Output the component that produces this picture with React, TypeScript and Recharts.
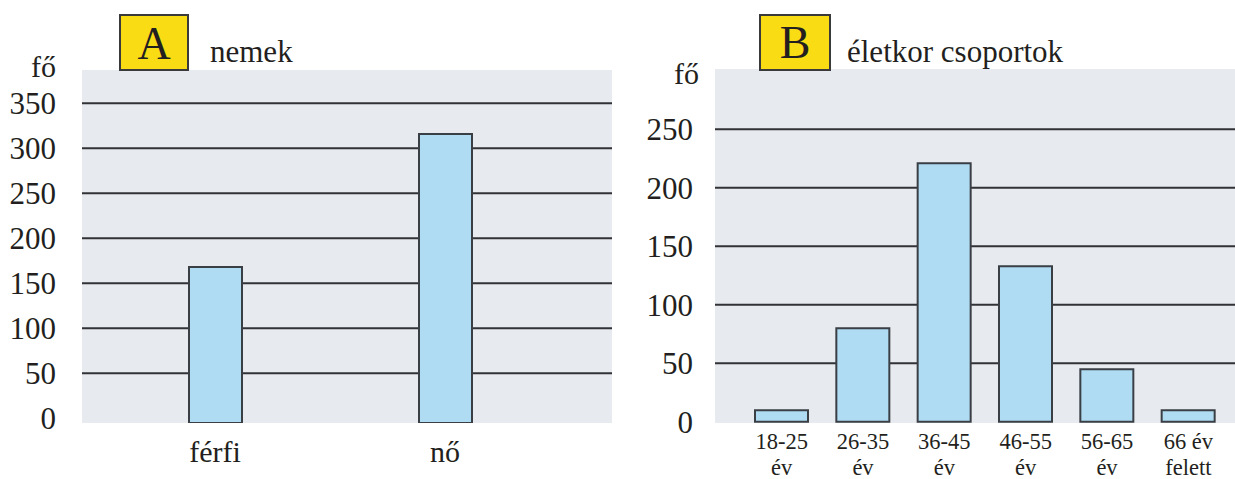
import React from 'react';
import { BarChart, Bar, XAxis, YAxis, CartesianGrid } from 'recharts';

// ---- Panel A: nemek ----
const sexCategories = ['férfi', 'nő'];
const sexValues = [168, 316];
const sexTicks = [0, 50, 100, 150, 200, 250, 300, 350];
const sexGridValues = [50, 100, 150, 200, 250, 300, 350];

// ---- Panel B: életkor csoportok ----
const ageLabelLine1 = ['18-25', '26-35', '36-45', '46-55', '56-65', '66 év'];
const ageLabelLine2 = ['év', 'év', 'év', 'év', 'év', 'felett'];
const ageValues = [10, 80, 221, 133, 45, 10];
const ageTicks = [0, 50, 100, 150, 200, 250];
const ageGridValues = [50, 100, 150, 200, 250];

const A_MIN = -5.2;
const A_MAX = 387;
const B_MIN = -1;
const B_MAX = 301.5;

const FONT = "'Liberation Serif', 'DejaVu Serif', 'Noto Serif', serif";
const BG = '#e7eaef';
const GRID = '#303236';
const BAR_FILL = '#afdcf2';
const BAR_STROKE = '#3a3f45';
const TEXT = '#231f20';

const serif = { fontFamily: FONT };

const sexData = sexCategories.map((c, i) => ({ name: c, value: sexValues[i] }));
const ageData = ageLabelLine1.map((c, i) => ({ name: c, line2: ageLabelLine2[i], value: ageValues[i] }));

const YTick = (props: any) => {
  const { x, y, payload } = props;
  return (
    <text x={x} y={y} dy="0.35em" textAnchor="end" style={serif} fontSize={31} fill={TEXT}>
      {payload.value}
    </text>
  );
};

const XTickA = (props: any) => {
  const { x, y, payload } = props;
  return (
    <text x={x} y={y + 39} textAnchor="middle" style={serif} fontSize={30} fill={TEXT}>
      {payload.value}
    </text>
  );
};

const XTickB = (props: any) => {
  const { x, y, payload, index } = props;
  return (
    <g>
      <text x={x} y={y + 26} textAnchor="middle" style={serif} fontSize={22.5} fill={TEXT}>
        {payload.value}
      </text>
      <text x={x} y={y + 52} textAnchor="middle" style={serif} fontSize={22.5} fill={TEXT}>
        {ageLabelLine2[index]}
      </text>
    </g>
  );
};

export default function App() {
  return (
    <div style={{ position: 'absolute', left: 0, top: 0, width: 1235, height: 479, background: '#fff' }}>
      <div style={{ position: 'absolute', left: 0, top: 0 }}>
        <BarChart width={620} height={479} data={sexData} margin={{ top: 70, right: 8, bottom: 0, left: 0 }}>
          <CartesianGrid
            vertical={false}
            horizontalValues={sexGridValues}
            stroke={GRID}
            strokeWidth={2}
            fill={BG}
            fillOpacity={1}
          />
          <XAxis
            dataKey="name"
            height={56}
            axisLine={false}
            tickLine={false}
            tickSize={0}
            tickMargin={0}
            padding={{ left: 18, right: 52 }}
            tick={<XTickA />}
            interval={0}
          />
          <YAxis
            width={82}
            type="number"
            domain={[A_MIN, A_MAX]}
            ticks={sexTicks}
            axisLine={false}
            tickLine={false}
            tickSize={0}
            tickMargin={26}
            tick={<YTick />}
            interval={0}
            allowDataOverflow
          />
          <Bar
            dataKey={(d: any) => [A_MIN, d.value]}
            barSize={53}
            fill={BAR_FILL}
            stroke={BAR_STROKE}
            strokeWidth={2}
            isAnimationActive={false}
          />
        </BarChart>
      </div>
      <div style={{ position: 'absolute', left: 620, top: 0 }}>
        <BarChart width={615} height={479} data={ageData} margin={{ top: 69, right: 0, bottom: 0, left: 0 }}>
          <CartesianGrid
            vertical={false}
            horizontalValues={ageGridValues}
            stroke={GRID}
            strokeWidth={2}
            fill={BG}
            fillOpacity={1}
          />
          <XAxis
            dataKey="name"
            height={56}
            axisLine={false}
            tickLine={false}
            tickSize={0}
            tickMargin={0}
            padding={{ left: 26, right: 6 }}
            tick={<XTickB />}
            interval={0}
          />
          <YAxis
            width={95}
            type="number"
            domain={[B_MIN, B_MAX]}
            ticks={ageTicks}
            axisLine={false}
            tickLine={false}
            tickSize={0}
            tickMargin={22}
            tick={<YTick />}
            interval={0}
            allowDataOverflow
          />
          <Bar
            dataKey="value"
            barSize={53}
            fill={BAR_FILL}
            stroke={BAR_STROKE}
            strokeWidth={2}
            isAnimationActive={false}
          />
        </BarChart>
      </div>
      <svg
        width={1235}
        height={479}
        style={{ position: 'absolute', left: 0, top: 0, pointerEvents: 'none' }}
      >
        <rect x={120} y={15} width={68} height={55} fill="#f9dc14" stroke="#3a3a3a" strokeWidth={2} />
        <text x={154} y={59} textAnchor="middle" style={serif} fontSize={46} fill={TEXT}>A</text>
        <text x={210} y={62} style={serif} fontSize={31} fill={TEXT}>nemek</text>
        <text x={56} y={77} textAnchor="end" style={serif} fontSize={30} fill={TEXT}>fő</text>

        <rect x={760} y={15} width={70} height={55} fill="#f9dc14" stroke="#3a3a3a" strokeWidth={2} />
        <text x={795} y={58} textAnchor="middle" style={serif} fontSize={46} fill={TEXT}>B</text>
        <text x={847} y={62} style={serif} fontSize={31} fill={TEXT}>életkor csoportok</text>
        <text x={699} y={84} textAnchor="end" style={serif} fontSize={30} fill={TEXT}>fő</text>
      </svg>
    </div>
  );
}
